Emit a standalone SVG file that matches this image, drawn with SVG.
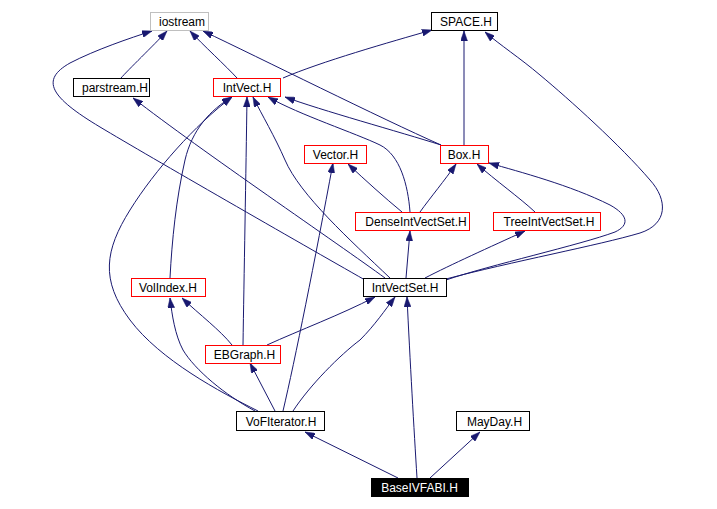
<svg xmlns="http://www.w3.org/2000/svg" width="717" height="509" viewBox="0 0 717 509">
<style>
.n rect{fill:#fff;stroke:#000;stroke-width:1}
.n.r rect{stroke:#ff0000}
.n.g rect{stroke:#bfbfbf}
.n.k rect{fill:#000}
.n text{font-family:"Liberation Sans",Arial,sans-serif;font-size:12px;text-anchor:middle;fill:#000}
.n.k text{fill:#fff}
#edges path{fill:none;stroke:#191970;stroke-width:1;marker-end:url(#ah)}
</style>
<defs>
<marker id="ah" viewBox="0 0 10 7" refX="10" refY="3.5" markerWidth="10" markerHeight="7" markerUnits="userSpaceOnUse" orient="auto">
<path d="M0,0 L10,3.5 L0,7 z" fill="#191970" stroke="#191970" stroke-width="0.5"/>
</marker>
</defs>
<rect width="717" height="509" fill="#fff"/>
<g id="edges">
<path d="M121,78 C128,70 153,46 167,31"/>
<path d="M237,78 C226,66 203,45 190,31"/>
<path d="M283,78 C320,62 390,42 432,30"/>
<path d="M441,145 C380,118 260,58 203,31"/>
<path d="M441,145 C400,132 320,110 285,97"/>
<path d="M410,212 C408,185 400,155 380,145 C355,133 300,115 268,97"/>
<path d="M464,145 L464,31"/>
<path d="M365,280 C300,243 150,157 100,127 C50,97 40,80 70,63 C95,50 130,38 152,31"/>
<path d="M385,278 C340,245 200,150 133,98"/>
<path d="M390,278 C350,240 300,195 285,160 C275,137 262,115 253,97"/>
<path d="M446,280 C490,265 580,245 615,232 C630,225 628,215 610,205 C570,185 520,172 489,163"/>
<path d="M446,279 C510,262 600,245 640,233 C668,224 668,200 650,180 C620,145 570,100 540,75 C520,58 500,45 485,32"/>
<path d="M406,278 L410,231"/>
<path d="M425,278 C450,265 490,247 525,231"/>
<path d="M402,212 C385,198 365,180 348,164"/>
<path d="M420,212 C430,198 445,180 456,164"/>
<path d="M535,212 C520,198 495,180 477,164"/>
<path d="M243,345 C244,280 246,170 247,97"/>
<path d="M232,345 C220,330 200,315 182,298"/>
<path d="M267,345 C300,330 340,315 375,297"/>
<path d="M170,278 C172,240 176,200 185,160 C192,130 210,110 232,97"/>
<path d="M258,411 C220,392 160,360 130,320 C100,280 105,250 130,210 C155,170 195,125 232,97"/>
<path d="M255,411 C225,395 195,370 183,350 C175,335 172,315 170,298"/>
<path d="M275,411 L250,363"/>
<path d="M283,411 C295,360 315,260 333,163"/>
<path d="M293,411 C310,385 340,355 360,340 C375,325 385,310 395,297"/>
<path d="M398,478 L305,432"/>
<path d="M417,478 C414,430 410,360 407,297"/>
<path d="M430,478 L480,432"/>
</g>
<g id="iostream" class="n g"><rect x="150.5" y="12.5" width="58" height="18"/><text x="182" y="26">iostream</text></g>
<g id="SPACE_H" class="n"><rect x="431.5" y="12.5" width="66" height="18"/><text x="466" y="26">SPACE.H</text></g>
<g id="parstream_H" class="n"><rect x="73.5" y="78.5" width="76" height="18"/><text x="115" y="92">parstream.H</text></g>
<g id="IntVect_H" class="n r"><rect x="213.5" y="78.5" width="67" height="18"/><text x="247" y="92">IntVect.H</text></g>
<g id="Vector_H" class="n r"><rect x="304.5" y="145.5" width="62" height="18"/><text x="335.5" y="159">Vector.H</text></g>
<g id="Box_H" class="n r"><rect x="440.5" y="145.5" width="48" height="18"/><text x="464" y="159">Box.H</text></g>
<g id="DenseIntVectSet_H" class="n r"><rect x="355.5" y="212.5" width="114" height="18"/><text x="416" y="226">DenseIntVectSet.H</text></g>
<g id="TreeIntVectSet_H" class="n r"><rect x="493.5" y="212.5" width="107" height="18"/><text x="549" y="226">TreeIntVectSet.H</text></g>
<g id="IntVectSet_H" class="n"><rect x="363.5" y="278.5" width="83" height="18"/><text x="405" y="292">IntVectSet.H</text></g>
<g id="VolIndex_H" class="n r"><rect x="131.5" y="278.5" width="74" height="18"/><text x="168" y="292">VolIndex.H</text></g>
<g id="EBGraph_H" class="n r"><rect x="205.5" y="345.5" width="75" height="18"/><text x="244.5" y="359">EBGraph.H</text></g>
<g id="VoFIterator_H" class="n"><rect x="236.5" y="411.5" width="88" height="19"/><text x="281" y="425.5">VoFIterator.H</text></g>
<g id="MayDay_H" class="n"><rect x="456.5" y="411.5" width="73" height="19"/><text x="494.5" y="425.5">MayDay.H</text></g>
<g id="BaseIVFABI_H" class="n k"><rect x="371.5" y="478.5" width="97" height="18"/><text x="419.5" y="492">BaseIVFABI.H</text></g>
</svg>
